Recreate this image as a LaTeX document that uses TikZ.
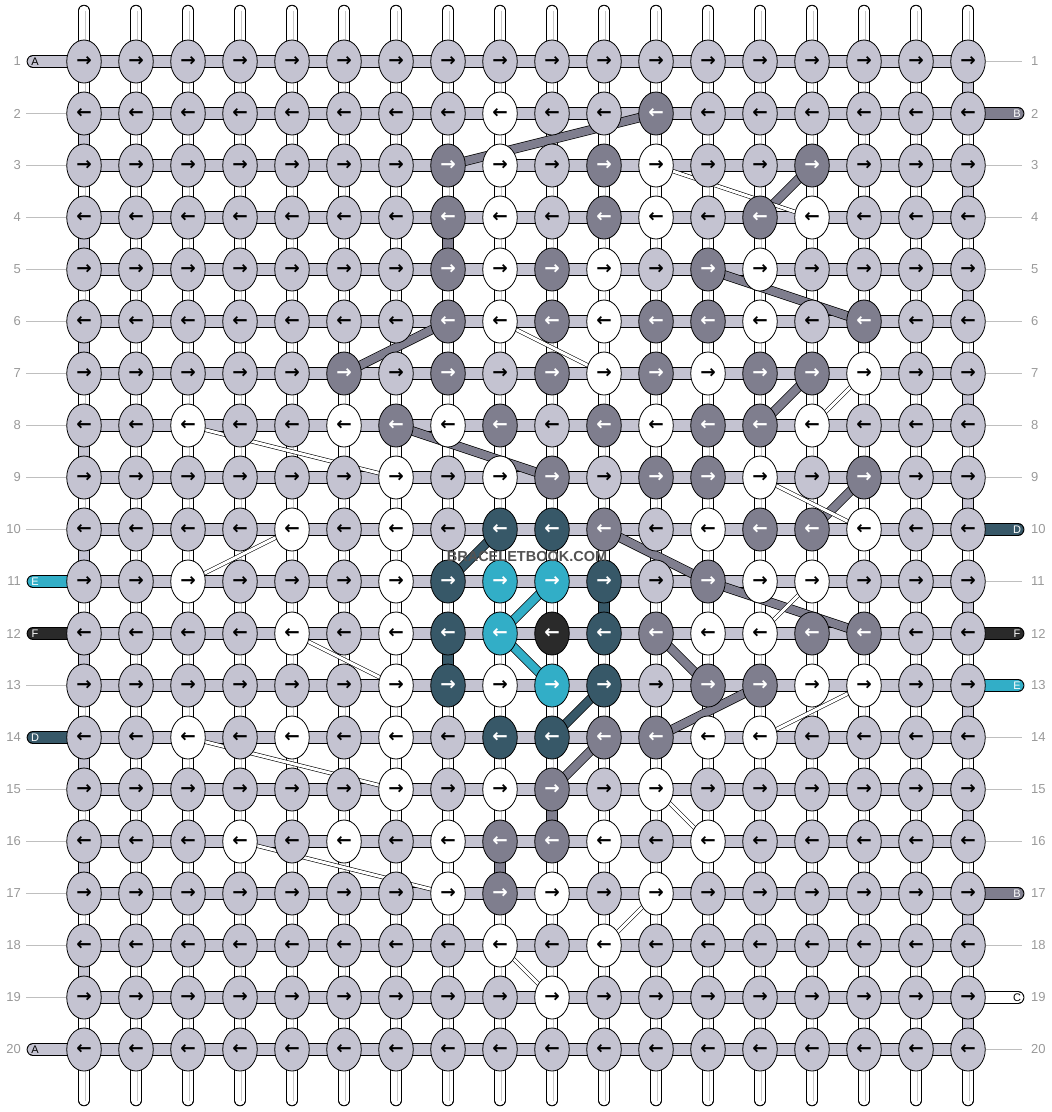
\documentclass[tikz,border=0pt]{standalone}
\usepackage{fontspec}
\setmainfont{Liberation Sans}
\newfontfamily\arrowfont{DejaVu Sans}
\usetikzlibrary{shapes.geometric}

\definecolor{cL}{RGB}{196,195,209}
\definecolor{cG}{RGB}{127,126,142}
\definecolor{cT}{RGB}{55,88,104}
\definecolor{cC}{RGB}{50,174,199}
\definecolor{cK}{RGB}{42,42,42}

\pgfdeclarelayer{strings}
\pgfdeclarelayer{threads}
\pgfsetlayers{strings,threads,main}

\tikzset{
 knot/.style={ellipse, draw, line width=0.8pt, minimum width=34.5pt, minimum height=43pt,
   inner sep=0pt, font=\arrowfont\bfseries\fontsize{18.5}{18.5}\selectfont},
 knot L/.style={knot, fill=cL, text=black},
 knot W/.style={knot, fill=white, text=black},
 knot G/.style={knot, fill=cG, text=white},
 knot T/.style={knot, fill=cT, text=white},
 knot C/.style={knot, fill=cC, text=white},
 knot K/.style={knot, fill=cK, text=white},
 base/.style={line width=1pt, double=white, double distance=9.5pt, line cap=round},
 baseinner/.style={line width=0.5pt, draw=black!22, double=white, double distance=2pt},
 rowbar/.style={line width=0.9pt, double=#1, double distance=11pt},
 vseg/.style={line width=0.9pt, double=#1, double distance=9.5pt},
 thread/.style={line width=0.7pt, double=#1, double distance=8pt},
 wthread/.style={line width=0.6pt, double=white, double distance=3pt},
 tag/.style={line width=0.9pt, double=#1, double distance=11pt, line cap=round},
 tagtext/.style={inner sep=0pt, font=\fontsize{11}{11}\selectfont},
 num/.style={inner ysep=0pt, text=black!40, font=\fontsize{13}{13}\selectfont},
 numline/.style={draw=black!25, line width=0.6pt},
 wm/.style={inner sep=0pt, text=black!68, font=\fontsize{14.5}{14.5}\selectfont\bfseries}
}

\begin{document}
\begin{tikzpicture}[x=1pt, y=-1pt]
\useasboundingbox (0,0) rectangle (1052,1112);

% knots
\foreach \r/\cols in {
 1/{L,L,L,L,L,L,L,L,L,L,L,L,L,L,L,L,L,L},
 2/{L,L,L,L,L,L,L,L,W,L,L,G,L,L,L,L,L,L},
 3/{L,L,L,L,L,L,L,G,W,L,G,W,L,L,G,L,L,L},
 4/{L,L,L,L,L,L,L,G,W,L,G,W,L,G,W,L,L,L},
 5/{L,L,L,L,L,L,L,G,W,G,W,L,G,W,L,L,L,L},
 6/{L,L,L,L,L,L,L,G,W,G,W,G,G,W,L,G,L,L},
 7/{L,L,L,L,L,G,L,G,L,G,W,G,W,G,G,W,L,L},
 8/{L,L,W,L,L,W,G,W,G,L,G,W,G,G,W,L,L,L},
 9/{L,L,L,L,L,L,W,L,W,G,L,G,G,W,L,G,L,L},
 10/{L,L,L,L,W,L,W,L,T,T,G,L,W,G,G,W,L,L},
 11/{L,L,W,L,L,L,W,T,C,C,T,L,G,W,W,L,L,L},
 12/{L,L,L,L,W,L,W,T,C,K,T,G,W,W,G,G,L,L},
 13/{L,L,L,L,L,L,W,T,W,C,T,L,G,G,W,W,L,L},
 14/{L,L,W,L,W,L,W,L,T,T,G,G,W,W,L,L,L,L},
 15/{L,L,L,L,L,L,W,L,W,G,L,W,L,L,L,L,L,L},
 16/{L,L,L,W,L,W,L,W,G,G,W,L,W,L,L,L,L,L},
 17/{L,L,L,L,L,L,L,W,G,W,L,W,L,L,L,L,L,L},
 18/{L,L,L,L,L,L,L,L,W,L,W,L,L,L,L,L,L,L},
 19/{L,L,L,L,L,L,L,L,L,W,L,L,L,L,L,L,L,L},
 20/{L,L,L,L,L,L,L,L,L,L,L,L,L,L,L,L,L,L}}{
  \foreach \k [count=\c] in \cols
    \node[knot \k] (k-\c-\r) at ({84+52*(\c-1)},{61.5+52*(\r-1)}) {\ifodd\r →\else ←\fi};
}

\node[wm] (wm) at (527,556) {BRACELETBOOK.COM};

% row numbers
\foreach \r in {1,...,20}{
  \node[num, anchor=east, inner xsep=5pt] (nl-\r) at (26,{61.5+52*(\r-1)}) {\r};
  \node[num, anchor=west, inner xsep=9pt] (nr-\r) at (1022,{61.5+52*(\r-1)}) {\r};
}
\foreach \r in {2,...,10,13,15,16,17,18,19}
  \draw[numline] (nl-\r.east) -- (k-1-\r.west);
\foreach \r in {1,3,4,5,6,7,8,9,11,14,15,16,18,20}
  \draw[numline] (k-18-\r.east) -- (nr-\r.west);

\begin{pgfonlayer}{strings}
% base strings
\foreach \c in {1,...,18}{
  \path (k-\c-1) ++(0,-51) coordinate (top-\c);
  \path (k-\c-20) ++(0,51) coordinate (bot-\c);
  \draw[base] (top-\c) -- (bot-\c);
  \draw[baseinner] (top-\c) -- (bot-\c);
}
\foreach \r in {2,4,...,18}{
  \pgfmathtruncatemacro\rn{\r+1}
  \draw[vseg=cL] (k-1-\r.center) -- (k-1-\rn.center);
}
\foreach \r in {1,3,...,19}{
  \pgfmathtruncatemacro\rn{\r+1}
  \draw[vseg=cL] (k-18-\r.center) -- (k-18-\rn.center);
}
\foreach \r in {1,...,20}
  \draw[rowbar=cL] (k-1-\r.center) -- (k-18-\r.center);
% side threads
\foreach \r/\t/\f/\tc in {1/A/cL/black, 11/E/cC/white, 12/F/cK/white, 14/D/cT/white, 20/A/cL/black}{
  \path (k-1-\r) ++(-51,0) coordinate (tl-\r);
  \draw[tag=\f] (tl-\r) -- (k-1-\r.center);
  \node[tagtext, text=\tc] (ta-\r) at ([xshift=2pt]tl-\r) {\t};
}
\foreach \r/\t/\f/\tc in {2/B/cG/white, 10/D/cT/white, 12/F/cK/white, 13/E/cC/white, 17/B/cG/white, 19/C/white/black}{
  \path (k-18-\r) ++(50,0) coordinate (tr-\r);
  \draw[tag=\f] (k-18-\r.center) -- (tr-\r);
  \node[tagtext, text=\tc] (tb-\r) at ([xshift=-1pt]tr-\r) {\t};
}
\end{pgfonlayer}

\begin{pgfonlayer}{threads}
\foreach \a/\b in {8-4/8-5, 10-15/10-16, 9-16/9-17}
  \draw[vseg=cG] (k-\a.center) -- (k-\b.center);
\foreach \a/\b in {8-12/8-13, 11-11/11-12}
  \draw[vseg=cT] (k-\a.center) -- (k-\b.center);
\foreach \a/\b in {8-3/12-2, 14-4/15-3, 13-5/16-6, 6-7/8-6, 7-8/10-9, 14-8/15-7,
   15-10/16-9, 11-10/13-11, 13-11/16-12, 12-12/13-13, 12-14/14-13, 10-15/11-14}
  \draw[thread=cG] (k-\a.center) -- (k-\b.center);
\foreach \a/\b in {8-11/9-10, 10-14/11-13}
  \draw[thread=cT] (k-\a.center) -- (k-\b.center);
\foreach \a/\b in {9-12/10-11, 9-12/10-13}
  \draw[thread=cC] (k-\a.center) -- (k-\b.center);
\foreach \a/\b in {12-3/15-4, 9-6/11-7, 3-8/7-9, 3-11/5-10, 15-8/16-7, 14-9/16-10,
   14-12/15-11, 14-14/16-13, 5-12/7-13, 3-14/7-15, 4-16/8-17, 12-15/13-16,
   11-18/12-17, 9-18/10-19}
  \draw[wthread] (k-\a.center) -- (k-\b.center);
\end{pgfonlayer}
\end{tikzpicture}
\end{document}
